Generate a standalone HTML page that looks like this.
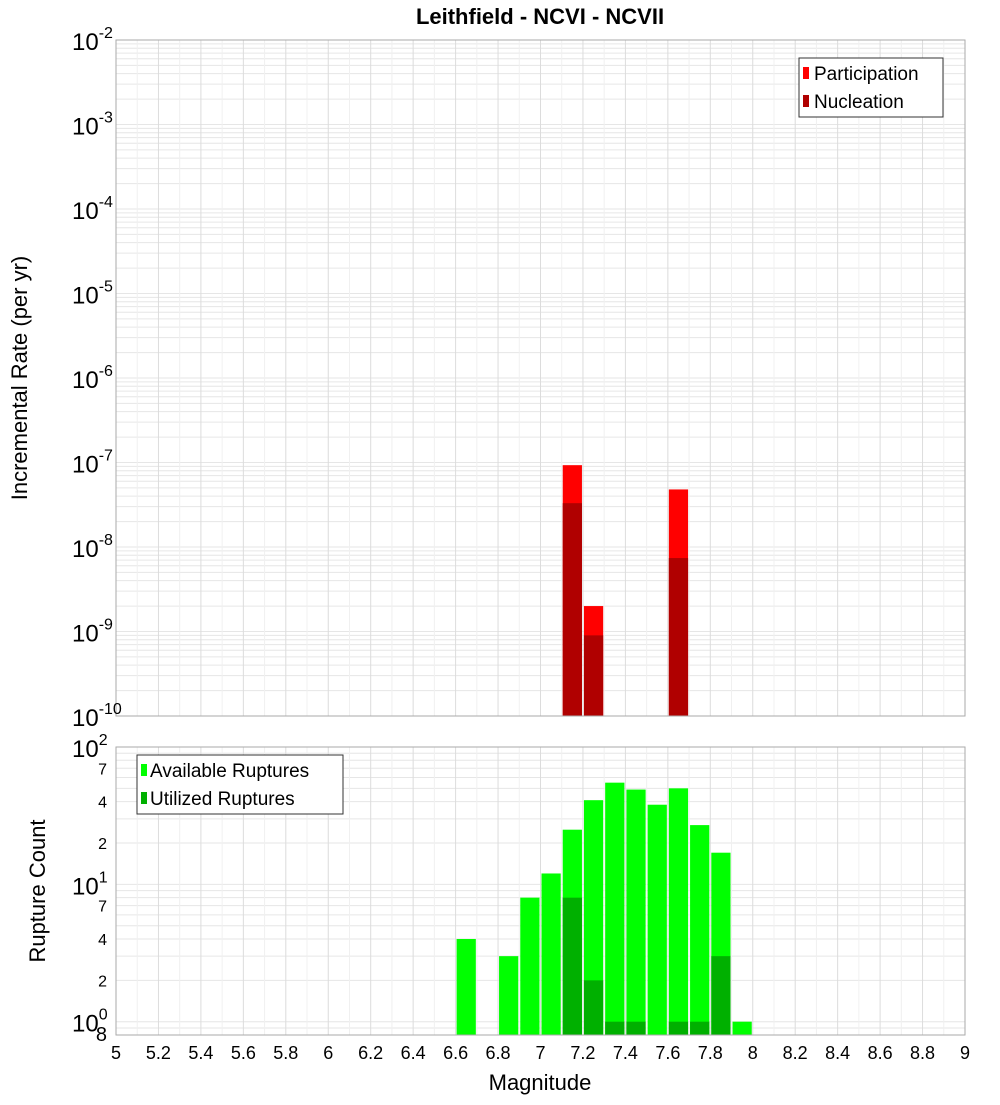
<!DOCTYPE html>
<html><head><meta charset="utf-8"><style>
body{margin:0;background:#fff;font-family:"Liberation Sans",sans-serif}
</style></head><body>
<svg id="c" width="1000" height="1100" xmlns="http://www.w3.org/2000/svg" font-family="Liberation Sans, DejaVu Sans, sans-serif">
<text x="540" y="24" text-anchor="middle" font-size="22" font-weight="bold">Leithfield - NCVI - NCVII</text>
<g id="top"></g>
<g id="bot"></g>
<text transform="translate(27,378) rotate(-90)" text-anchor="middle" font-size="22">Incremental Rate (per yr)</text>
<text transform="translate(45,891) rotate(-90)" text-anchor="middle" font-size="22">Rupture Count</text>
<text x="540" y="1090" text-anchor="middle" font-size="22">Magnitude</text>
<g>
<rect x="799" y="58" width="144" height="59" fill="#fff" stroke="#333"/>
<rect x="803" y="67" width="6" height="12" fill="#ff0000"/><text x="814" y="80" font-size="19">Participation</text>
<rect x="803" y="95" width="6" height="12" fill="#b00000"/><text x="814" y="108" font-size="19">Nucleation</text>
</g>
<g>
<rect x="137" y="755" width="206" height="59" fill="#fff" stroke="#333"/>
<rect x="141" y="764" width="6" height="12" fill="#00ff00"/><text x="150" y="777" font-size="19">Available Ruptures</text>
<rect x="141" y="792" width="6" height="12" fill="#00b000"/><text x="150" y="805" font-size="19">Utilized Ruptures</text>
</g>
</svg>
<script>
const rateMags=[7.15,7.25,7.65];
const participation=[9.3e-8,2.0e-9,4.8e-8];
const nucleation=[3.3e-8,9e-10,7.4e-9];
const countMags=[6.65,6.85,6.95,7.05,7.15,7.25,7.35,7.45,7.55,7.65,7.75,7.85,7.95];
const available=[4,3,8,12,25,41,55,49,38,50,27,17,1];
const utilized=[0,0,0,0,8,2,1,1,0,1,1,3,0];
const xTicks=[5,5.2,5.4,5.6,5.8,6,6.2,6.4,6.6,6.8,7,7.2,7.4,7.6,7.8,8,8.2,8.4,8.6,8.8,9];
const rateExps=[-10,-9,-8,-7,-6,-5,-4,-3,-2];
const NS="http://www.w3.org/2000/svg";
const X0=116,X1=965;
const xs=m=>X0+(m-5)/4*(X1-X0);
const T0=40,T1=716;
const yTop=v=>T1-(Math.log10(v)+10)/8*(T1-T0);
const B0=747,B1=1035,bmin=0.8,bmax=100;
const yBot=v=>B1-(Math.log10(v)-Math.log10(bmin))/(Math.log10(bmax)-Math.log10(bmin))*(B1-B0);
function mk(p,tag,a){const e=document.createElementNS(NS,tag);for(const k in a)e.setAttribute(k,a[k]);p.appendChild(e);return e;}
const gTop=document.getElementById('top'),gBot=document.getElementById('bot');
function grid(g,y0,y1,ylines){
  for(const y of ylines) mk(g,'line',{x1:X0,x2:X1,y1:y,y2:y,stroke:'#e6e6e6','stroke-width':1});
  for(let i=0;i<=40;i++){const m=5+i*0.1;const x=xs(m);mk(g,'line',{x1:x,x2:x,y1:y0,y2:y1,stroke:i%2===0?'#dcdcdc':'#f0f0f0','stroke-width':1});}
}
let tl=[];for(let e=-10;e<-2;e++)for(let k=1;k<10;k++)tl.push(yTop(k*Math.pow(10,e)));
grid(gTop,T0,T1,tl);
let bl=[];for(let e=-1;e<2;e++)for(let k=1;k<10;k++){const v=k*Math.pow(10,e);if(v>=bmin)bl.push(yBot(v));}
grid(gBot,B0,B1,bl);
rateMags.forEach((m,i)=>{
  const x=xs(m-0.05)+1,w=xs(m+0.05)-xs(m-0.05)-2;
  let r=mk(gTop,'rect',{x:x,y:yTop(participation[i]),width:w,height:T1-yTop(participation[i]),fill:'#ff0000'});
  
  
  r=mk(gTop,'rect',{x:x,y:yTop(nucleation[i]),width:w,height:T1-yTop(nucleation[i]),fill:'#b00000'});
  
  
});
countMags.forEach((m,i)=>{
  const x=xs(m-0.05)+1,w=xs(m+0.05)-xs(m-0.05)-2;
  let r=mk(gBot,'rect',{x:x,y:yBot(available[i]),width:w,height:B1-yBot(available[i]),fill:'#00ff00'});
  
  
  if(utilized[i]>0){r=mk(gBot,'rect',{x:x,y:yBot(utilized[i]),width:w,height:B1-yBot(utilized[i]),fill:'#00b000'});
  
  }
});
mk(gTop,'rect',{x:X0,y:T0,width:X1-X0,height:T1-T0,fill:'none',stroke:'#aaa'});
mk(gBot,'rect',{x:X0,y:B0,width:X1-X0,height:B1-B0,fill:'none',stroke:'#aaa'});
rateExps.forEach(e=>{
  const y=yTop(Math.pow(10,e));
  const t=mk(gTop,'text',{x:72,y:y+10,'font-size':24});
  
  
  t.textContent='10';const s=mk(t,'tspan',{dy:-12,'font-size':16});s.textContent=String(e);
});
[[100,'10','2'],[10,'10','1'],[1,'10','0']].forEach(([v,b,s])=>{
  const y=yBot(v);const t=mk(gBot,'text',{x:72,y:y+10,'font-size':24});
  
  
  t.textContent=b;const sp=mk(t,'tspan',{dy:-12,'font-size':16});sp.textContent=s;
});
[[70,'7'],[40,'4'],[20,'2'],[7,'7'],[4,'4'],[2,'2'],[0.8,'8']].forEach(([v,s])=>{
  const t=mk(gBot,'text',{x:107,y:yBot(v)+6,'font-size':v===0.8?20:16,'text-anchor':'end'});
  
  
  t.textContent=s;
});
xTicks.forEach(m=>{
  const t=mk(gBot,'text',{x:xs(m),y:1059,'font-size':18,'text-anchor':'middle'});
  
  
  t.textContent=String(m);
});
</script>
</body></html>
